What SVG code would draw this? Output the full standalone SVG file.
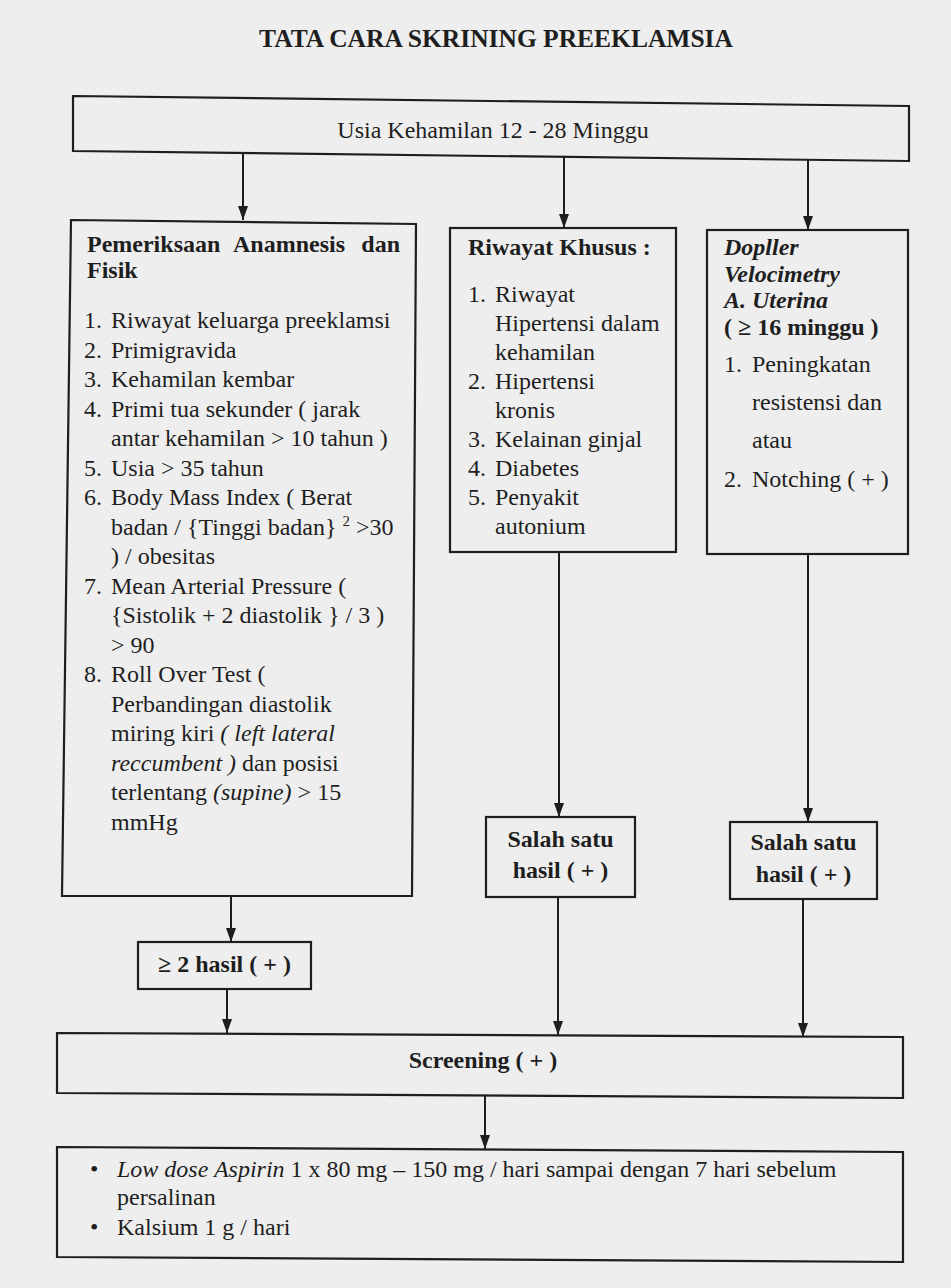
<svg xmlns="http://www.w3.org/2000/svg" width="951" height="1288" viewBox="0 0 951 1288">
<defs>
<marker id="ah" viewBox="0 0 14 10" refX="14" refY="5" markerWidth="14" markerHeight="10" markerUnits="userSpaceOnUse" orient="auto">
<path d="M0,0 L14,5 L0,10 Z" fill="#1e1e1e"/>
</marker>
<style>
.bx{fill:none;stroke:#1e1e1e;stroke-width:2.2}
.ln{fill:none;stroke:#1e1e1e;stroke-width:2;marker-end:url(#ah)}
text{font-family:"Liberation Serif","Times New Roman",serif;font-size:24px;fill:#1e1e1e}
.b{font-weight:bold}
.i{font-style:italic}
.c{text-anchor:middle}
</style>
</defs>
<rect width="951" height="1288" fill="#eeeeee"/>
<text id="title" class="b c" x="496" y="47" style="font-size:25.5px">TATA CARA SKRINING PREEKLAMSIA</text>

<g id="connectors">
<line class="ln" x1="243" y1="153" x2="243" y2="220"/>
<line class="ln" x1="564" y1="157" x2="564" y2="228"/>
<line class="ln" x1="808" y1="160" x2="808" y2="230"/>
<line class="ln" x1="231" y1="896" x2="231" y2="942"/>
<line class="ln" x1="227" y1="989" x2="227" y2="1033"/>
<line class="ln" x1="559" y1="552" x2="559" y2="817"/>
<line class="ln" x1="558" y1="897" x2="558" y2="1035"/>
<line class="ln" x1="808" y1="554" x2="808" y2="822"/>
<line class="ln" x1="803" y1="899" x2="803" y2="1037"/>
<line class="ln" x1="485" y1="1095" x2="485" y2="1149"/>
</g>

<g id="n-usia">
<path class="bx" d="M73,96 L909,106 L909,161 L73,151 Z"/>
<text class="c" x="493" y="138">Usia Kehamilan 12 - 28 Minggu</text>
</g>

<g id="n-anamnesis">
<path class="bx" d="M71,220 L416,224 L412,896 L62,896 Z"/>
<text class="b" x="87" y="252">Pemeriksaan</text>
<text class="b" x="233" y="252">Anamnesis</text>
<text class="b" x="400" y="252" text-anchor="end">dan</text>
<text class="b" x="87" y="278">Fisik</text>
<text x="84" y="328">1.</text><text x="111" y="328">Riwayat keluarga preeklamsi</text>
<text x="84" y="357.5">2.</text><text x="111" y="357.5">Primigravida</text>
<text x="84" y="387">3.</text><text x="111" y="387">Kehamilan kembar</text>
<text x="84" y="416.5">4.</text><text x="111" y="416.5">Primi tua sekunder ( jarak</text>
<text x="111" y="446">antar kehamilan &gt; 10 tahun )</text>
<text x="84" y="475.5">5.</text><text x="111" y="475.5">Usia &gt; 35 tahun</text>
<text x="84" y="505">6.</text><text x="111" y="505">Body Mass Index ( Berat</text>
<text x="111" y="534.5">badan / {Tinggi badan} <tspan style="font-size:15px" dy="-9">2</tspan><tspan dy="9"> &gt;30</tspan></text>
<text x="111" y="564">) / obesitas</text>
<text x="84" y="593.5">7.</text><text x="111" y="593.5">Mean Arterial Pressure (</text>
<text x="111" y="623">{Sistolik + 2 diastolik } / 3 )</text>
<text x="111" y="652.5">&gt; 90</text>
<text x="84" y="682">8.</text><text x="111" y="682">Roll Over Test (</text>
<text x="111" y="711.5">Perbandingan diastolik</text>
<text x="111" y="741">miring kiri <tspan class="i">( left lateral</tspan></text>
<text x="111" y="770.5"><tspan class="i">reccumbent )</tspan> dan posisi</text>
<text x="111" y="800">terlentang <tspan class="i">(supine)</tspan> &gt; 15</text>
<text x="111" y="829.5">mmHg</text>
</g>

<g id="n-riwayat">
<rect class="bx" x="450" y="228" width="226" height="324"/>
<text class="b" x="468" y="255">Riwayat Khusus :</text>
<text x="468" y="302">1.</text><text x="495" y="302">Riwayat</text>
<text x="495" y="331">Hipertensi dalam</text>
<text x="495" y="360">kehamilan</text>
<text x="468" y="389">2.</text><text x="495" y="389">Hipertensi</text>
<text x="495" y="418">kronis</text>
<text x="468" y="447">3.</text><text x="495" y="447">Kelainan ginjal</text>
<text x="468" y="476">4.</text><text x="495" y="476">Diabetes</text>
<text x="468" y="505">5.</text><text x="495" y="505">Penyakit</text>
<text x="495" y="534">autonium</text>
</g>

<g id="n-doppler">
<rect class="bx" x="707" y="230" width="201" height="324"/>
<text class="b i" x="724" y="255">Dopller</text>
<text class="b i" x="724" y="282">Velocimetry</text>
<text class="b i" x="724" y="308">A. Uterina</text>
<text class="b" x="724" y="335">( ≥ 16 minggu )</text>
<text x="724" y="372">1.</text><text x="752" y="372">Peningkatan</text>
<text x="752" y="410">resistensi dan</text>
<text x="752" y="448">atau</text>
<text x="724" y="487">2.</text><text x="752" y="487">Notching ( + )</text>
</g>

<g id="n-salah1">
<rect class="bx" x="486" y="817" width="149" height="80"/>
<text class="b c" x="560.5" y="847">Salah satu</text>
<text class="b c" x="560.5" y="878">hasil ( + )</text>
</g>

<g id="n-salah2">
<rect class="bx" x="730" y="822" width="147" height="77"/>
<text class="b c" x="803.5" y="850">Salah satu</text>
<text class="b c" x="803.5" y="882">hasil ( + )</text>
</g>

<g id="n-2hasil">
<rect class="bx" x="138" y="942" width="173" height="47"/>
<text class="b c" x="224.5" y="972">≥ 2 hasil ( + )</text>
</g>

<g id="n-screening">
<path class="bx" d="M57,1033 L903,1037 L903,1098 L57,1093 Z"/>
<text class="b c" x="483" y="1068">Screening ( + )</text>
</g>

<g id="n-terapi">
<path class="bx" d="M57,1147 L903,1152 L903,1262 L57,1257 Z"/>
<text x="90" y="1177">•</text>
<text x="117" y="1177"><tspan class="i">Low dose Aspirin</tspan> 1 x 80 mg – 150 mg / hari sampai dengan 7 hari sebelum</text>
<text x="117" y="1205">persalinan</text>
<text x="90" y="1235">•</text>
<text x="117" y="1235">Kalsium 1 g / hari</text>
</g>
</svg>
